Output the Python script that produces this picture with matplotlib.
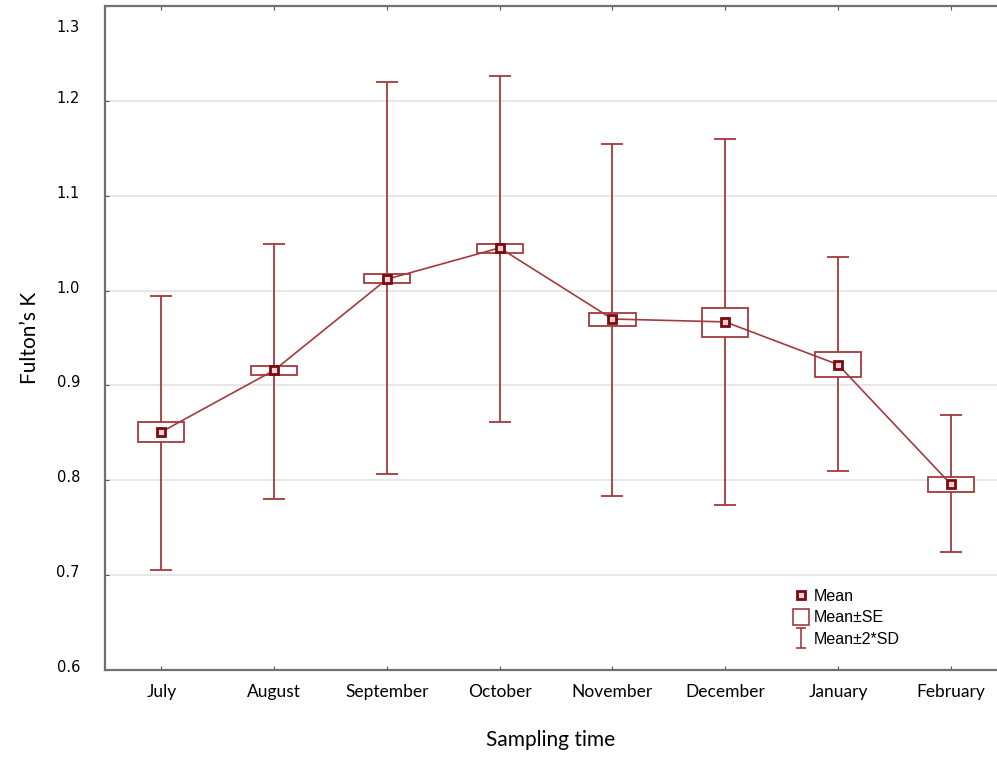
import numpy as np
import matplotlib
matplotlib.use("Agg")
import matplotlib.pyplot as plt
import matplotlib.transforms as mtransforms
from matplotlib.path import Path
from matplotlib.lines import Line2D

# values
months = ["July", "August", "September", "October",
          "November", "December", "January", "February"]
mean = [0.851, 0.916, 1.012, 1.045, 0.970, 0.967, 0.922, 0.796]
se_lo = [0.840, 0.911, 1.008, 1.040, 0.963, 0.951, 0.909, 0.788]
se_hi = [0.861, 0.920, 1.017, 1.049, 0.976, 0.982, 0.935, 0.804]
sd_lo = [0.705, 0.780, 0.807, 0.861, 0.783, 0.774, 0.810, 0.724]
sd_hi = [0.994, 1.049, 1.220, 1.226, 1.155, 1.160, 1.035, 0.869]
yticks = [0.6, 0.7, 0.8, 0.9, 1.0, 1.1, 1.2, 1.3]

red = "#a33a3d"
dark = "#7a0a10"

x = np.arange(len(months))
mean = np.array(mean)

fig = plt.figure(figsize=(9.97, 7.6), dpi=100)
ax = fig.add_axes([0.1053, 0.1184, 0.8947, 0.8737])

# whiskers (mean +/- 2*SD)
ax.errorbar(x, mean, yerr=[mean - np.array(sd_lo), np.array(sd_hi) - mean],
            fmt="none", ecolor=red, elinewidth=1.3, capsize=8, capthick=1.3,
            zorder=2)

# SE boxes
ax.bar(x, np.array(se_hi) - np.array(se_lo), bottom=se_lo, width=0.41,
       color="white", edgecolor=red, linewidth=1.3, zorder=3)

# mean line + markers
ax.plot(x, mean, color=red, lw=1.2, zorder=4)
ax.plot(x, mean, ls="none", marker="s", ms=6, mfc="#f0d0d0", mec=dark,
        mew=2, zorder=5)

ax.set_xlim(-0.5, 7.41)
ax.set_ylim(0.6, 1.3)
ax.set_yticks(yticks)
ax.set_yticklabels([f"{v:.1f}" for v in yticks],
                   family="DejaVu Sans", fontsize=10.5)
ax.set_xticks(x)
ax.set_xticklabels(months, family="Lato", fontsize=12.5)
ax.yaxis.grid(True, color="#e3e3e3", lw=1.2)
ax.set_axisbelow(True)

ax.tick_params(axis="both", direction="in", length=3, color="#555555",
               top=True)
ax.tick_params(axis="x", pad=10)
ax.tick_params(axis="y", pad=18)

# labels sit a bit above their gridline; top one is pushed inside the frame
labels = ax.get_yticklabels()
for t in labels:
    t.set_transform(t.get_transform() +
                    mtransforms.ScaledTranslation(0, 4 / 100, fig.dpi_scale_trans))
labels[-1].set_transform(labels[-1].get_transform() +
                         mtransforms.ScaledTranslation(0, -24 / 100, fig.dpi_scale_trans))

for s in ["left", "bottom", "top"]:
    ax.spines[s].set_color("#707070")
    ax.spines[s].set_linewidth(1.6)
ax.spines["right"].set_visible(False)

ax.set_ylabel("Fulton\u2019s K", family="Lato", fontsize=15, labelpad=12)
ax.set_xlabel("Sampling time", family="Lato", fontsize=15, labelpad=22)

# legend handles
ibar = Path([(-0.5, -1), (0.5, -1), (0, -1), (0, 1), (-0.5, 1), (0.5, 1)],
            [Path.MOVETO, Path.LINETO, Path.MOVETO, Path.LINETO,
             Path.MOVETO, Path.LINETO])
handles = [
    Line2D([], [], ls="none", marker="s", ms=6, mfc="#f0d0d0", mec=dark, mew=2),
    Line2D([], [], ls="none", marker="s", ms=12, mfc="white", mec=red, mew=1.2),
    Line2D([], [], ls="none", marker=ibar, ms=14, mec=red, mew=1.2),
]
ax.legend(handles, ["Mean", "Mean\u00b1SE", "Mean\u00b12*SD"],
          loc="lower left", bbox_to_anchor=(0.755, 0.013), frameon=False,
          prop={"family": "Liberation Sans", "size": 11.5},
          handletextpad=0.3, labelspacing=0.42, handlelength=1.0)

fig.savefig("out.png", dpi=100)
plt.close()
